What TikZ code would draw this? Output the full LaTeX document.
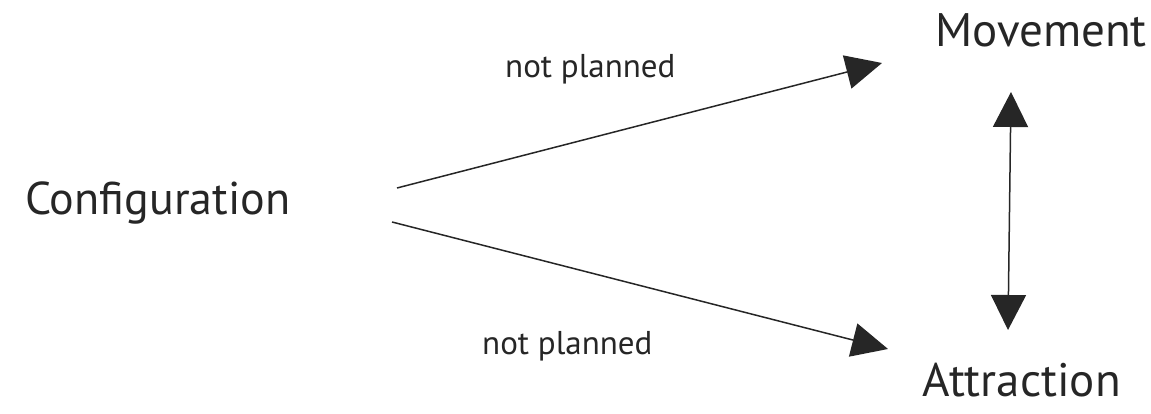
\documentclass[tikz,border=0pt]{standalone}
\usepackage{fontspec}
\setmainfont{PT Sans}
\usetikzlibrary{arrows.meta}
\definecolor{ink}{HTML}{262626}
\begin{document}
\begin{tikzpicture}[x=1pt,y=1pt,
  lbl/.style={inner sep=0pt, anchor=base west, text=ink},
  big/.style={lbl, font=\fontsize{47}{50}\selectfont},
  small/.style={lbl, font=\fontsize{33}{36}\selectfont},
  conn/.style={draw=ink, line width=1.5pt, -{Triangle[length=36pt,width=34pt]}},
  dconn/.style={draw=ink, line width=1.5pt, {Triangle[length=35pt,width=35pt]}-{Triangle[length=35pt,width=35pt]}}]
\useasboundingbox (0,0) rectangle (1151,414);
\node[big, font=\fontsize{46}{50}\selectfont] (conf) at (25,199) {Configuration};
\node[big] (mov) at (935,367) {Movement};
\node[big] (attr) at (922,17) {Attraction};
\node[small] (np1) at (505,336) {not planned};
\node[small] (np2) at (482,59) {not planned};
\coordinate (s1) at (397,226);
\coordinate (t1) at (882,351);
\coordinate (s2) at (392,192);
\coordinate (t2) at (888,65);
\coordinate (v1) at (1008,84);
\coordinate (v2) at (1011,322);
\draw[conn] (s1) -- (t1);
\draw[conn] (s2) -- (t2);
\draw[dconn] (v1) -- (v2);
\end{tikzpicture}
\end{document}
